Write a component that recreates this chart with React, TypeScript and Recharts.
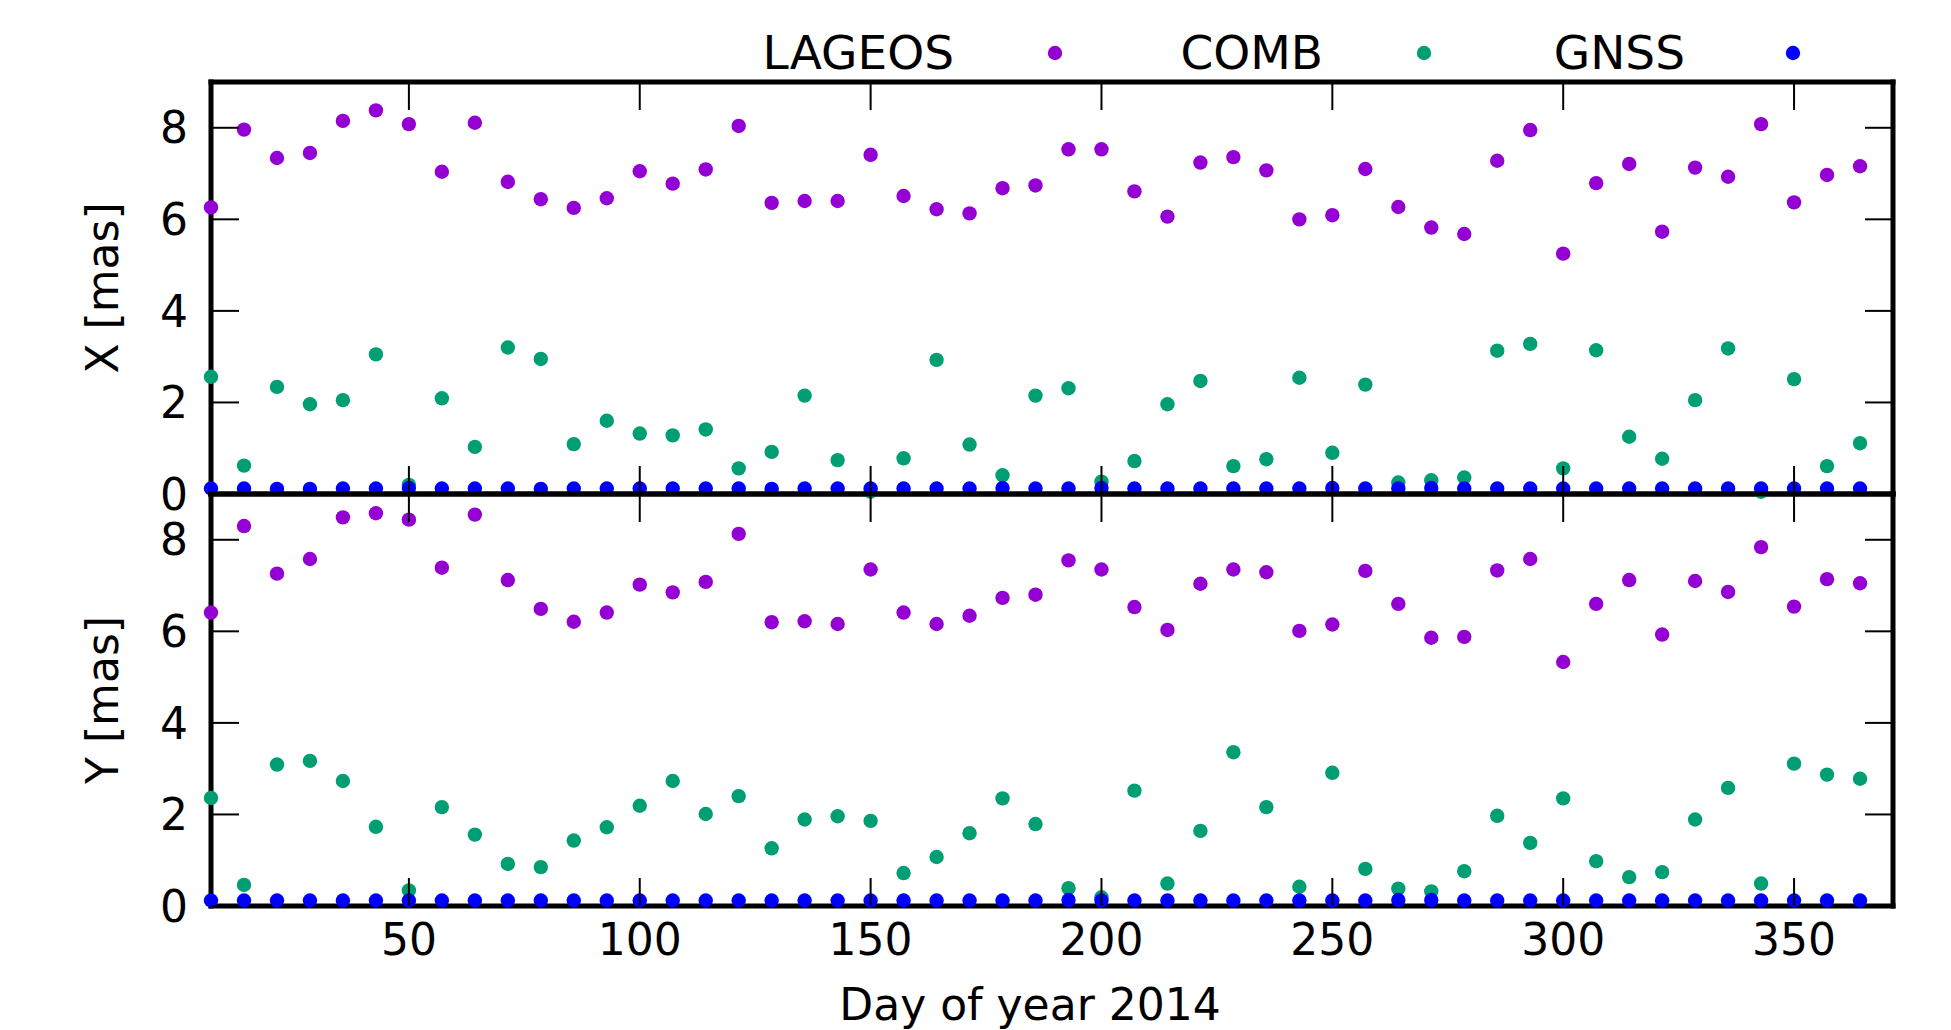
import { ScatterChart, Scatter, XAxis, YAxis } from 'recharts';

// day of year of each weekly solution
const DAYS = [
  7.14, 14.29, 21.43, 28.57, 35.71, 42.86, 50, 57.14, 64.29, 71.43, 78.57, 85.71, 92.86,
  100, 107.14, 114.29, 121.43, 128.57, 135.71, 142.86, 150, 157.14, 164.29, 171.43, 178.57,
  185.71, 192.86, 200, 207.14, 214.29, 221.43, 228.57, 235.71, 242.86, 250, 257.14, 264.29,
  271.43, 278.57, 285.71, 292.86, 300, 307.14, 314.29, 321.43, 328.57, 335.71, 342.86, 350,
  357.14, 364.29,
];

const LAGEOS_X = [
  6.26, 7.96, 7.34, 7.45, 8.15, 8.38, 8.08, 7.04, 8.11, 6.82, 6.44, 6.25, 6.46,
  7.05, 6.78, 7.09, 8.04, 6.36, 6.40, 6.40, 7.41, 6.51, 6.22, 6.13, 6.68,
  6.74, 7.53, 7.53, 6.61, 6.06, 7.24, 7.36, 7.07, 6.00, 6.09, 7.10, 6.27,
  5.82, 5.68, 7.28, 7.95, 5.25, 6.79, 7.21, 5.73, 7.13, 6.93, 8.08, 6.37,
  6.97, 7.16,
];
const COMB_X = [
  2.56, 0.62, 2.34, 1.96, 2.05, 3.05, 0.20, 2.09, 1.03, 3.20, 2.95, 1.09, 1.60,
  1.32, 1.28, 1.41, 0.56, 0.92, 2.15, 0.74, 0.05, 0.78, 2.93, 1.08, 0.41,
  2.15, 2.31, 0.27, 0.72, 1.96, 2.47, 0.61, 0.76, 2.54, 0.90, 2.39, 0.25,
  0.30, 0.36, 3.13, 3.28, 0.56, 3.14, 1.25, 0.77, 2.05, 3.18, 0.05, 2.51,
  0.61, 1.11,
];
const GNSS_X = [
  0.12, 0.12, 0.11, 0.11, 0.12, 0.12, 0.13, 0.12, 0.12, 0.12, 0.11, 0.12, 0.12,
  0.12, 0.12, 0.12, 0.12, 0.11, 0.12, 0.12, 0.12, 0.12, 0.12, 0.12, 0.13,
  0.12, 0.12, 0.13, 0.12, 0.12, 0.12, 0.12, 0.12, 0.12, 0.13, 0.12, 0.12,
  0.13, 0.12, 0.12, 0.12, 0.12, 0.12, 0.12, 0.12, 0.12, 0.12, 0.12, 0.12,
  0.12, 0.12,
];

const LAGEOS_Y = [
  6.41, 8.30, 7.26, 7.58, 8.49, 8.58, 8.44, 7.39, 8.55, 7.12, 6.49, 6.21, 6.41,
  7.02, 6.85, 7.08, 8.13, 6.20, 6.22, 6.16, 7.35, 6.41, 6.16, 6.34, 6.73,
  6.80, 7.55, 7.35, 6.53, 6.03, 7.04, 7.35, 7.29, 6.01, 6.15, 7.32, 6.60,
  5.86, 5.88, 7.33, 7.58, 5.33, 6.60, 7.12, 5.93, 7.10, 6.86, 7.84, 6.54,
  7.14, 7.05,
];
const COMB_Y = [
  2.36, 0.46, 3.09, 3.17, 2.73, 1.73, 0.34, 2.16, 1.56, 0.92, 0.85, 1.43, 1.72,
  2.19, 2.73, 2.01, 2.40, 1.26, 1.89, 1.96, 1.86, 0.72, 1.07, 1.59, 2.35,
  1.79, 0.39, 0.19, 2.52, 0.49, 1.64, 3.36, 2.16, 0.42, 2.91, 0.81, 0.38,
  0.32, 0.76, 1.97, 1.38, 2.35, 0.98, 0.63, 0.74, 1.89, 2.58, 0.49, 3.11,
  2.87, 2.78,
];
const GNSS_Y = [
  0.12, 0.12, 0.12, 0.12, 0.12, 0.12, 0.12, 0.12, 0.12, 0.12, 0.12, 0.12, 0.12,
  0.12, 0.12, 0.12, 0.12, 0.12, 0.12, 0.12, 0.12, 0.12, 0.12, 0.12, 0.12,
  0.12, 0.13, 0.12, 0.12, 0.12, 0.12, 0.12, 0.12, 0.12, 0.12, 0.12, 0.13,
  0.13, 0.12, 0.12, 0.12, 0.12, 0.12, 0.12, 0.12, 0.12, 0.12, 0.12, 0.12,
  0.12, 0.12,
];

const SERIES_NAMES = ['LAGEOS', 'COMB', 'GNSS'];
const SERIES_COLORS = ['#9400d3', '#009e73', '#0000ff'];

const X_TICKS = [50, 100, 150, 200, 250, 300, 350];
const Y_TICKS = [0, 2, 4, 6, 8];
const X_DOMAIN = [7.14, 371.43];
const Y_DOMAIN = [0, 9];

const FONT = 'DejaVu Sans';
const W = 1951;
const H = 1030;
const LEFT = 211;
const RIGHT = 58;
const PLOT_W = W - LEFT - RIGHT;
const PLOT_H = 412;
const PANEL_TOPS = [82, 494];
const TICK_LEN = 28;
const LEGEND_TEXT_END = [954, 1323, 1685];
const LEGEND_DOT_X = [1055, 1424, 1793];

const tickText = { fontSize: 44, fill: '#000', fontFamily: FONT };
const border = { stroke: '#000', strokeWidth: 5, strokeLinecap: 'square' as const };

// pixel position of a tick value inside a panel (same linear mapping the axes use)
const tickX = (v: number) => LEFT + ((v - X_DOMAIN[0]) / (X_DOMAIN[1] - X_DOMAIN[0])) * PLOT_W;
const tickY = (top: number, v: number) => top + PLOT_H - ((v - Y_DOMAIN[0]) / (Y_DOMAIN[1] - Y_DOMAIN[0])) * PLOT_H;

const Dot = (color: string) => (props: any) => (
  <circle cx={props.cx} cy={props.cy} r={7.2} fill={color} />
);

// axes are 1px thick so recharts draws them (borders + labels)
function Panel({ values, height, top, showXLabels }: {
  values: number[][];
  height: number;
  top: number;
  showXLabels: boolean;
}) {
  const bottom = height - top - PLOT_H;
  return (
    <div style={{ position: 'absolute', left: 0, top: 0 }}>
      <ScatterChart width={W} height={height} margin={{ top: top - 1, right: RIGHT - 1, bottom: bottom - 1, left: LEFT - 1 }}>
        <XAxis
          xAxisId="b" type="number" dataKey="x" orientation="bottom"
          domain={X_DOMAIN} ticks={X_TICKS} interval={0} height={1}
          tickSize={0} tickMargin={18} tickLine={false}
          tick={showXLabels ? tickText : false} axisLine={border}
        />
        <XAxis
          xAxisId="t" type="number" orientation="top"
          domain={X_DOMAIN} ticks={X_TICKS} interval={0} height={1}
          tickLine={false} tick={false} axisLine={border}
        />
        <YAxis
          yAxisId="l" type="number" dataKey="y" orientation="left"
          domain={Y_DOMAIN} ticks={Y_TICKS} interval={0} width={1}
          tickSize={0} tickMargin={23} tickLine={false}
          tick={tickText} axisLine={border}
        />
        <YAxis
          yAxisId="r" type="number" orientation="right"
          domain={Y_DOMAIN} ticks={Y_TICKS} interval={0} width={1}
          tickLine={false} tick={false} axisLine={border}
        />
        {SERIES_NAMES.map((name, s) => (
          <Scatter
            key={name}
            name={name}
            xAxisId="b"
            yAxisId="l"
            data={DAYS.map((d, i) => ({ x: d, y: values[s][i] }))}
            fill={SERIES_COLORS[s]}
            shape={Dot(SERIES_COLORS[s])}
            isAnimationActive={false}
          />
        ))}
      </ScatterChart>
    </div>
  );
}

export default function App() {
  return (
    <div style={{ position: 'absolute', left: 0, top: 0, width: W, height: H, background: '#fff' }}>
      <Panel values={[LAGEOS_X, COMB_X, GNSS_X]} height={520} top={PANEL_TOPS[0]} showXLabels={false} />
      <Panel values={[LAGEOS_Y, COMB_Y, GNSS_Y]} height={H} top={PANEL_TOPS[1]} showXLabels={true} />
      <svg width={W} height={H} style={{ position: 'absolute', left: 0, top: 0, pointerEvents: 'none' }}>
        {/* inward tick marks on all four sides of both panels */}
        {PANEL_TOPS.map((top) => (
          <g key={top} stroke="#000" strokeWidth={2}>
            {X_TICKS.map((v) => (
              <g key={v}>
                <line x1={tickX(v)} x2={tickX(v)} y1={top} y2={top + TICK_LEN} />
                <line x1={tickX(v)} x2={tickX(v)} y1={top + PLOT_H} y2={top + PLOT_H - TICK_LEN} />
              </g>
            ))}
            {Y_TICKS.map((v) => (
              <g key={v}>
                <line x1={LEFT} x2={LEFT + TICK_LEN} y1={tickY(top, v)} y2={tickY(top, v)} />
                <line x1={LEFT + PLOT_W} x2={LEFT + PLOT_W - TICK_LEN} y1={tickY(top, v)} y2={tickY(top, v)} />
              </g>
            ))}
          </g>
        ))}
        {SERIES_NAMES.map((name, s) => (
          <g key={name}>
            <text x={LEGEND_TEXT_END[s]} y={69} textAnchor="end" fontSize={47} fontFamily={FONT} fill="#000">
              {name}
            </text>
            <circle cx={LEGEND_DOT_X[s]} cy={53} r={7.2} fill={SERIES_COLORS[s]} />
          </g>
        ))}
        <text transform="translate(118,288) rotate(-90)" textAnchor="middle" fontSize={44} fontFamily={FONT} fill="#000">
          X [mas]
        </text>
        <text transform="translate(118,700) rotate(-90)" textAnchor="middle" fontSize={44} fontFamily={FONT} fill="#000">
          Y [mas]
        </text>
        <text x={1030} y={1020} textAnchor="middle" fontSize={44} fontFamily={FONT} fill="#000">
          Day of year 2014
        </text>
      </svg>
    </div>
  );
}
